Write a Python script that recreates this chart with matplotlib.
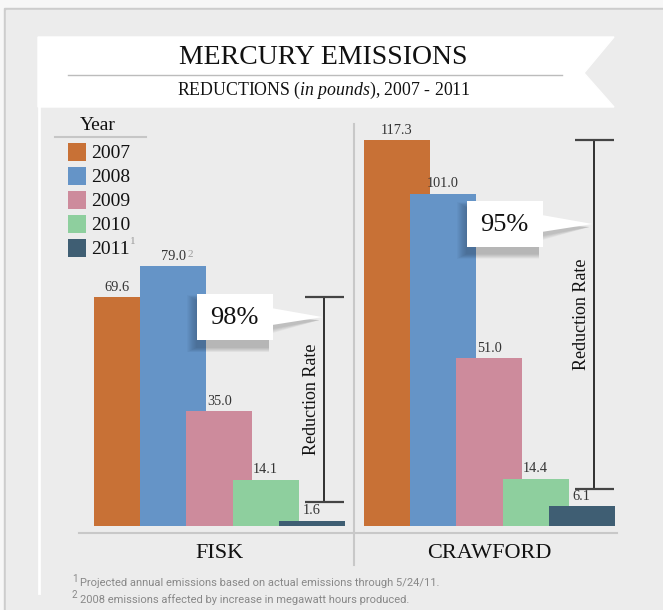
import matplotlib
matplotlib.use('Agg')
import matplotlib.pyplot as plt
from matplotlib.patches import Rectangle, Polygon

years = ['2007', '2008', '2009', '2010', '2011']
year_notes = ['', '', '', '', '1']
colors = ['#c87136', '#6594c7', '#cd8b9c', '#8ecf9e', '#3f5e73']
plants = ['FISK', 'CRAWFORD']
fisk = [69.6, 79.0, 35.0, 14.1, 1.6]
crawford = [117.3, 101.0, 51.0, 14.4, 6.1]
values = [fisk, crawford]
value_notes = [['', '2', '', '', ''], ['', '', '', '', '']]
reduction = ['98%', '95%']
bracket_low = [7.3, 11.2]
footnotes = ['Projected annual emissions based on actual emissions through 5/24/11.',
             '2008 emissions affected by increase in megawatt hours produced.']

W, H = 663, 610
SERIF = 'Liberation Serif'
plt.rcParams['mathtext.fontset'] = 'custom'
plt.rcParams['mathtext.rm'] = SERIF
plt.rcParams['mathtext.it'] = SERIF + ':italic'

# pixel layout
BASE = 526          # bar baseline (px from top)
PX = 3.29           # px per pound
YMAX = 130
group_left = [94, 364]
step = 46.2
width = 66
callout_y = [63.5, 91.8]   # where the pointer hits the bracket (data units)

fig = plt.figure(figsize=(W / 100, H / 100), dpi=100)
fig.patch.set_facecolor('#f7f7f7')

# background layer in pixel coordinates
bg = fig.add_axes([0, 0, 1, 1], zorder=0)
bg.set_xlim(0, W)
bg.set_ylim(H, 0)
bg.axis('off')
bg.add_patch(Rectangle((4, 8), W, H, color='#cdcdcd'))
bg.add_patch(Rectangle((6, 10), W, H, color='#ececec'))
bg.plot([39, 39], [107, 593], color='white', lw=2)
bg.add_patch(Polygon([(38, 37), (614, 37), (584, 73), (614, 107), (38, 107)],
                     closed=True, color='white'))
bg.plot([68, 562], [75, 75], color='#bcbcbc', lw=1)
bg.text(323, 58, 'MERCURY EMISSIONS', ha='center', va='center',
        family=SERIF, fontsize=20, color='#111111')
bg.text(324, 90, r'REDUCTIONS $\it{(in\ pounds)}$, 2007 - 2011', ha='center', va='center',
        family=SERIF, fontsize=12.8, color='#111111')

# divider and base line
bg.plot([354, 354], [124, 565], color='#c8c8c8', lw=1.5)
bg.plot([79, 617], [533, 533], color='#c8c8c8', lw=1.5)

# bar layer
ax = fig.add_axes([0, (H - BASE) / H, 1, YMAX * PX / H], zorder=1)
ax.set_xlim(0, W)
ax.set_ylim(0, YMAX)
ax.axis('off')
ax.patch.set_alpha(0)

fg = fig.add_axes([0, 0, 1, 1], zorder=2)
fg.set_xlim(0, W)
fg.set_ylim(H, 0)
fg.axis('off')
fg.patch.set_alpha(0)


def to_px(v):
    return BASE - v * PX


for g, vals in enumerate(values):
    for i, v in enumerate(vals):
        x = group_left[g] + i * step
        ax.bar(x, v, width=width, align='edge', color=colors[i], zorder=2)
        cx = x + width / 2
        if g == 0 and i == 0:
            cx = x + step / 2  # first bar label sits over its visible part
        ax.text(cx, v + 1, f'{v:.1f}', ha='center', va='bottom',
                family=SERIF, fontsize=10.3, color='#333333', zorder=3)
        if value_notes[g][i]:
            ax.annotate(value_notes[g][i], xy=(cx, v + 1), xytext=(10, 3),
                        textcoords='offset points', va='bottom', ha='left',
                        family=SERIF, fontsize=8, color='#999999')

    # bracket showing the reduction
    xb = group_left[g] + 229.5
    top = vals[0]
    low = bracket_low[g]
    ax.vlines(xb, low, top, color='#222222', lw=1.3, zorder=3)
    ax.hlines([low, top], xb - 19, xb + 20, color='#444444', lw=1.6, zorder=3)
    ax.text(xb - 12, (low + top) / 2, 'Reduction Rate', rotation=90, ha='center', va='center',
            family=SERIF, fontsize=13, color='#111111', zorder=3)

    # callout box with a soft shadow
    ty = to_px(callout_y[g])
    bw, bh = 76, 46
    bx = xb - 51 - bw
    by = ty - 23
    for k in range(10):
        fg.add_patch(Rectangle((bx - 10 + k, by + 1 + k * 0.6), bw + 6 - k, bh + 11 - k * 1.1,
                               color='black', alpha=0.025, lw=0))
    for k in range(5):
        fg.add_patch(Polygon([(bx + bw, ty - 2 + k), (bx + bw, ty + 16 - k), (xb - 4, ty + 3)],
                             closed=True, color='black', alpha=0.04, lw=0))
    fg.add_patch(Polygon([(bx + bw - 1, ty - 9), (bx + bw - 1, ty + 8), (xb - 1, ty)],
                         closed=True, color='white', lw=0))
    fg.add_patch(Rectangle((bx, by), bw, bh, color='white', lw=0))
    fg.text(bx + bw / 2, by + bh / 2 + 1, reduction[g], ha='center', va='center',
            family=SERIF, fontsize=19, color='#111111')

    # plant name
    gx = group_left[g] + (4 * step + width) / 2
    fg.text(gx, 553, plants[g], ha='center', va='center',
            family=SERIF, fontsize=16, color='#111111')

# legend
fg.text(98, 126, 'Year', ha='center', va='center', family=SERIF, fontsize=14, color='#111111')
fg.plot([55, 146], [137, 137], color='#c6c6c6', lw=1.5)
for i, yr in enumerate(years):
    sy = 143 + i * 24
    fg.add_patch(Rectangle((68, sy), 18, 18, color=colors[i], lw=0))
    fg.text(91, sy + 10, yr, ha='left', va='center', family=SERIF,
            fontsize=14, color='#111111')
    if year_notes[i]:
        fg.text(130, sy + 3, year_notes[i], ha='left', va='center', family=SERIF,
                fontsize=8, color='#999999')

# footnotes
for i, note in enumerate(footnotes):
    fy = 583 + i * 16.5
    fg.text(72, fy - 4, str(i + 1), ha='left', va='center', family='Roboto',
            fontsize=7, color='#888888')
    fg.text(80, fy, note, ha='left', va='center', family='Roboto',
            fontsize=8, color='#888888')

fig.savefig('out.png', dpi=100)
